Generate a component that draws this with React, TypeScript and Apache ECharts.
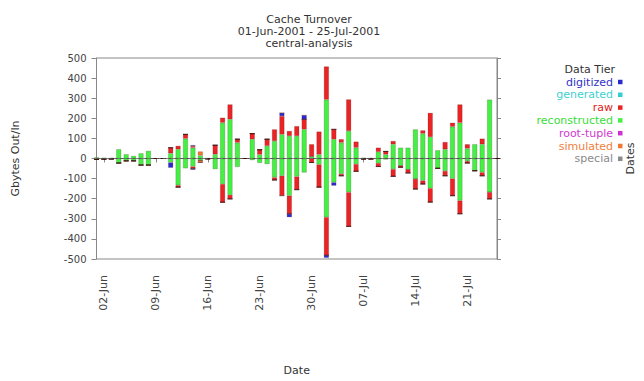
import React, { useEffect, useRef } from "react";
import * as echarts from "echarts";

const dates = [
  "01-Jun","02-Jun","03-Jun","04-Jun","05-Jun","06-Jun","07-Jun","08-Jun","09-Jun","10-Jun",
  "11-Jun","12-Jun","13-Jun","14-Jun","15-Jun","16-Jun","17-Jun","18-Jun","19-Jun","20-Jun",
  "21-Jun","22-Jun","23-Jun","24-Jun","25-Jun","26-Jun","27-Jun","28-Jun","29-Jun","30-Jun",
  "01-Jul","02-Jul","03-Jul","04-Jul","05-Jul","06-Jul","07-Jul","08-Jul","09-Jul","10-Jul",
  "11-Jul","12-Jul","13-Jul","14-Jul","15-Jul","16-Jul","17-Jul","18-Jul","19-Jul","20-Jul",
  "21-Jul","22-Jul","23-Jul","24-Jul","25-Jul",
];

const tickLabels = ["02-Jun","09-Jun","16-Jun","23-Jun","30-Jun","07-Jul","14-Jul","21-Jul"];

// Gbytes out (positive)
const reconstructedOut = [
  6,4,3,46,21,13,26,38,0,0,
  26,46,99,54,15,2,21,178,195,79,
  0,96,20,63,87,120,112,112,145,10,
  20,293,96,79,137,54,4,3,33,20,
  71,54,54,145,124,107,41,46,158,178,
  50,71,71,293,0,
];
const rawOut = [
  0,0,0,0,0,0,0,0,0,0,
  28,17,21,8,0,0,45,25,74,17,
  0,28,24,33,58,91,25,49,50,61,
  114,165,49,17,157,30,0,0,21,15,
  16,0,0,0,16,120,0,36,20,91,
  21,0,28,0,0,
];
const digitizedOut = [
  0,0,0,0,0,0,0,0,0,0,
  0,0,0,5,0,0,0,0,0,0,
  0,0,0,0,0,16,0,0,20,0,
  0,0,0,0,0,0,0,0,0,0,
  0,0,0,0,0,0,0,0,0,0,
  0,0,0,0,0,
];
const simulatedOut = [
  0,0,0,0,0,0,0,0,0,0,
  0,0,0,0,20,0,0,0,0,0,
  0,0,0,0,0,0,0,0,0,0,
  0,0,0,0,0,0,0,0,0,0,
  0,0,0,0,0,0,0,0,0,0,
  0,0,0,0,0,
];

// Gbytes in (negative)
const reconstructedIn = [
  -5,-4,-3,-23,-12,-12,-33,-33,0,0,
  -20,-133,-49,-40,-10,-2,-53,-127,-181,-42,
  0,-8,-22,-28,-94,-86,-185,-90,-70,0,
  -30,-292,-119,-77,-168,-28,-3,-3,-23,-5,
  -53,-36,-55,-102,-110,-148,-49,-62,-100,-209,
  -13,-61,-69,-168,0,
];
const rawIn = [
  0,0,0,0,0,0,0,0,0,0,
  0,-10,0,-10,0,0,0,-91,-20,0,
  0,0,0,0,-13,-99,-91,-65,0,-20,
  -113,-190,0,-9,-170,-36,0,0,-17,0,
  -36,-8,-17,-50,-17,-69,0,-24,-85,-66,
  -10,0,-17,-33,0,
];
const digitizedIn = [
  0,0,0,0,0,0,0,0,0,0,
  -26,0,0,-6,0,0,0,0,0,0,
  0,0,0,0,0,0,-16,0,0,0,
  0,-12,-16,0,0,0,0,0,0,0,
  0,0,0,0,0,0,0,0,0,0,
  0,0,0,0,0,
];
const simulatedIn = [
  0,0,0,0,0,0,0,0,0,0,
  0,0,0,0,-10,0,0,0,0,0,
  0,0,0,0,0,0,0,0,0,0,
  0,0,0,0,0,0,0,0,0,0,
  0,0,0,0,0,0,0,0,0,0,
  0,0,0,0,0,
];

const tiers = ["digitized","generated","raw","reconstructed","root-tuple","simulated","special"];
const tierColors = ["#3030c8","#40d0d0","#e02020","#38dd38","#d038d0","#f08040","#8a8a8a"];
const barColors: Record<string, string> = {
  digitized: "#2a2ad0",
  generated: "#30d0d0",
  raw: "#ea2424",
  reconstructed: "#44f044",
  "root-tuple": "#d030d0",
  simulated: "#f07830",
  special: "#8a8a8a",
};

const FONT = "DejaVu Sans, Verdana, sans-serif";

export default function App() {
  const ref = useRef<HTMLDivElement>(null);
  useEffect(() => {
    if (!ref.current) return;
    const chart = echarts.init(ref.current, undefined, { renderer: "svg" });
    const mk = (name: string, data: number[], withLine = false) => ({
      name,
      type: "bar",
      stack: "all",
      data,
      barWidth: 5,
      itemStyle: {
        color: barColors[name],
        borderColor: "rgba(60,0,0,0.35)",
        borderWidth: 0.5,
      },
      ...(withLine
        ? {
            markLine: {
              silent: true,
              symbol: "none",
              label: { show: false },
              lineStyle: { type: [3, 3], color: "#555", width: 1 },
              data: [{ yAxis: 0 }],
              z: 10,
            },
          }
        : {}),
    });
    const series: any[] = [
      mk("reconstructed", reconstructedOut, true),
      mk("reconstructed", reconstructedIn),
      mk("raw", rawOut),
      mk("raw", rawIn),
      mk("simulated", simulatedOut),
      mk("simulated", simulatedIn),
      mk("digitized", digitizedOut),
      mk("digitized", digitizedIn),
      mk("generated", []),
      mk("root-tuple", []),
      mk("special", []),
    ];
    const showIdx = (i: number) => tickLabels.indexOf(dates[i]) >= 0;
    chart.setOption({
      animation: false,
      textStyle: { fontFamily: FONT },
      title: {
        text: "Cache Turnover\n01-Jun-2001 - 25-Jul-2001\ncentral-analysis",
        left: 304,
        top: 8,
        textAlign: "center",
        textStyle: { fontSize: 11, fontWeight: "normal", color: "#333", lineHeight: 12, fontFamily: FONT },
      },
      graphic: [
        {
          type: "text",
          right: 29,
          top: 64,
          style: { text: "Data Tier", fontSize: 11, fill: "#333", fontFamily: FONT },
        },
      ],
      legend: {
        orient: "vertical",
        right: 16.5,
        top: 71,
        align: "right",
        itemWidth: 4.5,
        itemHeight: 4.5,
        itemGap: 0.8,
        icon: "rect",
        selectedMode: false,
        itemStyle: { borderWidth: 0 },
        textStyle: { fontSize: 11, lineHeight: 12, fontFamily: FONT },
        data: tiers.map((t, i) => ({ name: t, textStyle: { color: tierColors[i] } })),
      },
      grid: {
        left: 96.5,
        right: 132.5,
        top: 58,
        bottom: 121,
        show: true,
        borderColor: "#888",
        borderWidth: 1,
      },
      xAxis: {
        type: "category",
        data: dates,
        boundaryGap: false,
        name: "Date",
        nameLocation: "middle",
        nameGap: 106,
        nameTextStyle: { fontSize: 11, color: "#333" },
        axisLine: { lineStyle: { color: "#888" } },
        axisTick: { interval: (i: number) => showIdx(i), length: 4, lineStyle: { color: "#888" } },
        axisLabel: {
          interval: (i: number) => showIdx(i),
          rotate: 90,
          fontSize: 11,
          color: "#444",
          margin: 16,
        },
        splitLine: { show: false },
      },
      yAxis: [
        {
          type: "value",
          min: -500,
          max: 500,
          interval: 100,
          name: "Gbytes Out/In",
          nameLocation: "middle",
          nameGap: 76,
          nameTextStyle: { fontSize: 11, color: "#333" },
          axisLine: { show: true, lineStyle: { color: "#888" } },
          axisTick: { show: true, length: 5, lineStyle: { color: "#888" } },
          axisLabel: { fontSize: 10, color: "#444", margin: 10 },
          splitLine: { show: false },
        },
        {
          type: "value",
          position: "right",
          min: -500,
          max: 500,
          interval: 100,
          name: "Dates",
          nameLocation: "middle",
          nameGap: 128,
          nameRotate: 90,
          nameTextStyle: { fontSize: 11, color: "#333" },
          axisLine: { show: true, lineStyle: { color: "#888" } },
          axisTick: { show: true, length: 4, lineStyle: { color: "#888" } },
          axisLabel: { show: false },
          splitLine: { show: false },
        },
      ],
      series,
    });
    return () => chart.dispose();
  }, []);
  return <div ref={ref} style={{ width: 644, height: 381, position: "absolute", left: 0, top: 0 }} />;
}
